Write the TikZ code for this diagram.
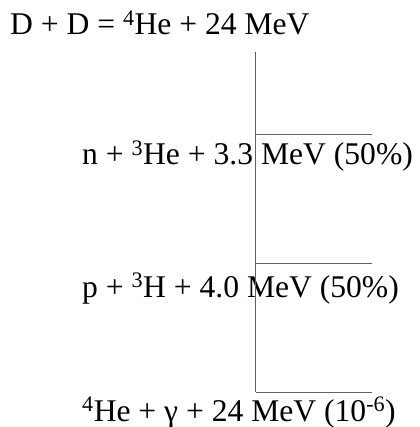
\documentclass[tikz,border=0pt]{standalone}
\usepackage{fontspec}
\setmainfont{Liberation Serif}
\usetikzlibrary{positioning}
\tikzset{branch/.style={draw=black!62,line width=0.9pt},
 lbl/.style={anchor=base west,inner sep=0pt}}

\begin{document}
\begin{tikzpicture}[x=1pt,y=-1pt,font=\fontsize{31.6}{37}\selectfont]
 \useasboundingbox (0,0) rectangle (419,427);
 \node[lbl] (dd) at (10,35) {D + D = \textsuperscript{4}He + 24 MeV};
 \node[lbl] (nhe) at (82,165) {n + \textsuperscript{3}He + 3.3 MeV (50\%)};
 \node[lbl] (ph) at (82,297) {p + \textsuperscript{3}H + 4.0 MeV (50\%)};
 \node[lbl] (hg) at (82,421) {\textsuperscript{4}He + γ + 24 MeV (10\textsuperscript{-6})};
 \coordinate (top) at (255.5,52);
 \foreach \n/\y in {1/134,2/263,3/392}{
  \coordinate (br\n) at (255.5,\y);
  \coordinate (end\n) at (372,\y);
  \draw[branch] (br\n) -- (end\n);}
 \draw[branch] (top) -- (br3);
\end{tikzpicture}
\end{document}
